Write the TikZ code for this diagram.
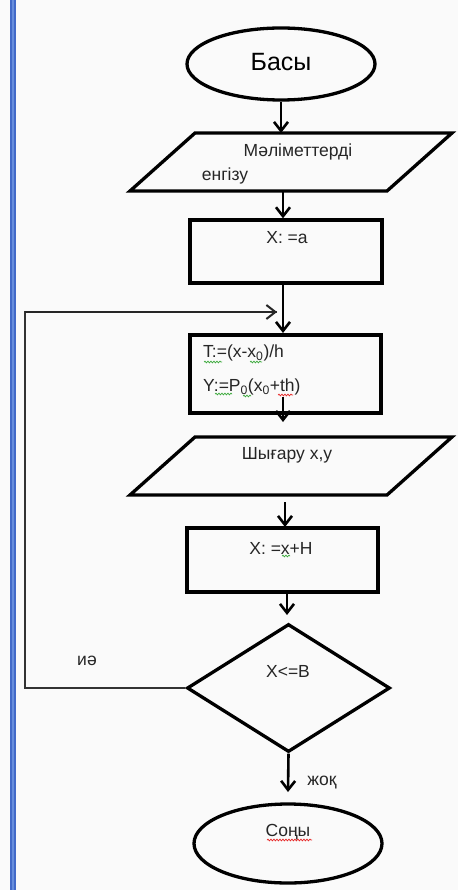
\documentclass[tikz,border=0pt]{standalone}
\usepackage{fontspec}
\setmainfont{Liberation Sans}
\usetikzlibrary{arrows.meta,shapes.geometric,decorations.pathmorphing}
\definecolor{barblue}{RGB}{66,106,200}
\definecolor{barlight}{RGB}{104,142,220}
\definecolor{spellgreen}{RGB}{60,170,60}
\definecolor{spellred}{RGB}{230,40,40}
\begin{document}
\begin{tikzpicture}[x=1pt,y=-1pt,
  txt/.style={font=\fontsize{17.5}{20}\selectfont, inner sep=0pt, text=black!85},
  bigtxt/.style={font=\fontsize{25}{28}\selectfont, inner sep=0pt},
  boxshape/.style={draw, line width=3.3pt, inner sep=0pt},
  term/.style={boxshape, ellipse},
  procbox/.style={boxshape, rectangle},
  decide/.style={boxshape, diamond},
  iobox/.style={draw, line width=3.3pt, line join=miter},
  flow/.style={line width=2.6pt, -{Straight Barb[length=9pt,width=14pt,line width=2.6pt]}},
  loopline/.style={line width=2pt, draw=black!80},
  squig/.style={decorate, decoration={snake, segment length=3pt, amplitude=0.9pt}, line width=0.7pt}
]
\useasboundingbox (0,0) rectangle (458,890);
\fill[white!98!black] (0,0) rectangle (458,890);
% page margin bar
\fill[barblue] (10,0) rectangle (15.5,890);
\fill[barlight] (11.8,0) rectangle (13.6,890);

% start
\node[term, minimum width=188pt, minimum height=72pt] (start) at (281,64) {};
\node[bigtxt] (starttxt) at (281,62) {Басы};

% input parallelogram
\coordinate (in1nw) at (195,133);
\coordinate (in1ne) at (452,133);
\coordinate (in1se) at (387,191);
\coordinate (in1sw) at (130,191);
\draw[iobox] (in1nw) -- (in1ne) -- (in1se) -- (in1sw) -- cycle;
\coordinate (in1n) at (281,133);
\coordinate (in1s) at (283,191);
\node[txt] (in1a) at (298,152) {Мәліметтерді};
\node[txt] (in1b) at (225,176) {енгізу};

% X:=a
\node[procbox, minimum width=192pt, minimum height=63pt] (r1) at (286,251.5) {};
\node[txt] (r1t) at (287,238) {X: =a};

% T, Y box
\node[procbox, minimum width=191pt, minimum height=78pt] (r2) at (285.5,374) {};
\node[txt, anchor=west] (r2a) at (203,353) {T:=(x-x\textsubscript{0})/h};
\node[txt, anchor=west] (r2b) at (203,387) {Y:=P\textsubscript{0}(x\textsubscript{0}+th)};
\coordinate (r2in) at (283,397);

% output parallelogram
\coordinate (in2nw) at (195,437);
\coordinate (in2ne) at (452,437);
\coordinate (in2se) at (387,495);
\coordinate (in2sw) at (130,495);
\draw[iobox] (in2nw) -- (in2ne) -- (in2se) -- (in2sw) -- cycle;
\coordinate (in2top) at (283,422);
\coordinate (in2s) at (285,502);
\node[txt] (in2t) at (287,455) {Шығару х,у};

% X:=x+H
\node[procbox, minimum width=191pt, minimum height=64pt] (r3) at (282.5,560) {};
\node[txt] (r3t) at (281,548) {X: =x+H};
\coordinate (r3in) at (285,527);

% decision
\node[decide, minimum width=203pt, minimum height=128pt] (d) at (288.5,688) {};
\node[txt] (dt) at (288,671) {X<=B};
\coordinate (dtop) at (287,615);
\node[txt] (yes) at (87,661) {иә};
\node[txt] (no) at (322,783) {жоқ};

% end
\node[term, minimum width=188pt, minimum height=79pt] (stop) at (288,843.5) {};
\node[txt] (stoptxt) at (288,832) {Соңы};
\coordinate (stopin) at (288,792);

% loop corners
\coordinate (lp1) at (25,688);
\coordinate (lp2) at (25,312);
\coordinate (lpend) at (277,312);
\coordinate (r2top) at (283,333);

% connectors
\draw[flow] (start.south) -- (in1n);
\draw[flow] (in1s) -- (r1.north -| in1s);
\draw[flow] (r1.south -| in1s) -- (r2top);
\draw[flow] (r2in) -- (in2top);
\draw[flow] (in2s) -- (r3in);
\draw[flow] (r3.south -| dtop) -- (dtop);
\draw[flow] (d.south) -- (stopin);
\draw[loopline] (d.west) -- (lp1) -- (lp2) -- (lpend);
\draw[line width=2pt, draw=black!85, -{Straight Barb[length=9pt,width=14pt,line width=2pt]}] (lp2) -- (lpend);

% spell-check squiggles
\draw[squig, spellgreen] (204,362) -- (222,362);
\draw[squig, spellgreen] (250,362) -- (262,362);
\draw[squig, spellgreen] (215,394) -- (232,394);
\draw[squig, spellgreen] (243,396) -- (251,396);
\draw[squig, spellred] (278,395) -- (293,395);
\draw[squig, spellgreen] (282,556) -- (290,556);
\draw[squig, spellred] (267,840) -- (312,840);
\end{tikzpicture}
\end{document}
